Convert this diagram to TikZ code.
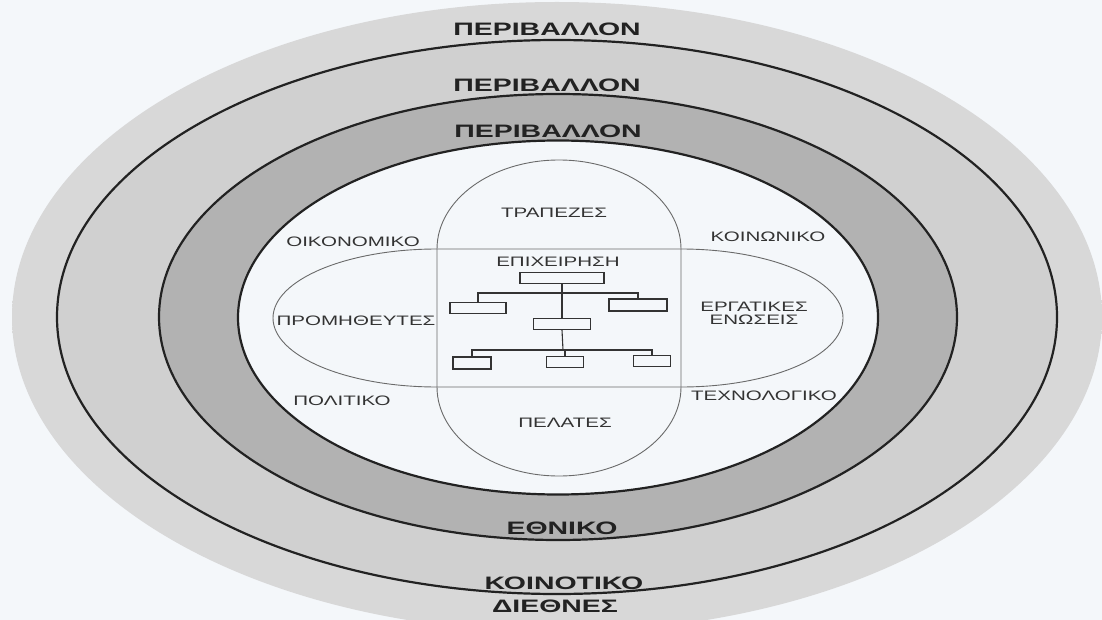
\documentclass[tikz,border=0pt]{standalone}
\usepackage{fontspec}
\setmainfont{Liberation Sans}
\newfontfamily\labfont[FakeStretch=1.5]{Liberation Sans}
\newfontfamily\ringfont[FakeStretch=1.58]{Liberation Sans}
\definecolor{bgcol}{HTML}{F4F7FA}
\definecolor{halocol}{HTML}{D8D8D8}
\definecolor{ringA}{HTML}{D0D0D0}
\definecolor{ringB}{HTML}{B2B2B2}
\definecolor{inkcol}{HTML}{222222}
\definecolor{thincol}{HTML}{6A6A6A}
\pgfdeclareradialshading{haloshade}{\pgfpoint{0bp}{0bp}}{color(0bp)=(halocol); color(44bp)=(halocol); color(50bp)=(bgcol)}
\tikzset{
  ring/.style={draw=inkcol, line width=2.2pt},
  thinline/.style={draw=thincol, line width=0.9pt},
  ringlabel/.style={inner sep=0pt, text=inkcol, font=\fontsize{18}{20}\selectfont\ringfont\bfseries},
  lab/.style={inner sep=0pt, text=black!80, font=\fontsize{13.7}{13}\selectfont\labfont, align=center},
  orgbox/.style={draw=black!80, line width=1.1pt, fill=bgcol, inner sep=0pt, minimum height=11pt},
  orgline/.style={draw=black!80, line width=1.1pt}
}
\begin{document}
\begin{tikzpicture}[x=1pt,y=-1pt]
\useasboundingbox (0,0) rectangle (1102,620);
\fill[bgcol] (0,0) rectangle (1102,620);
% halo and rings
\shade[shading=haloshade] (557,317) ellipse [x radius=545, y radius=315];
\draw[ring, fill=ringA] (557,317) ellipse [x radius=500, y radius=277];
\draw[ring, fill=ringB] (558,317) ellipse [x radius=399, y radius=223];
\draw[ring, fill=bgcol] (558,317.5) ellipse [x radius=320, y radius=177];
% vertical stadium
\draw[thinline] (437,249) -- (437,387)
  arc[start angle=180, end angle=0, x radius=122, y radius=89]
  -- (681,249)
  arc[start angle=0, end angle=-180, x radius=122, y radius=89] -- cycle;
% horizontal stadium
\draw[thinline] (437,249) -- (681,249)
  arc[start angle=-90, end angle=90, x radius=162, y radius=69]
  -- (437,387)
  arc[start angle=90, end angle=270, x radius=164, y radius=69] -- cycle;
% ring labels
\node[ringlabel] (env1) at (547,29) {ΠΕΡΙΒΑΛΛΟΝ};
\node[ringlabel] (env2) at (547,85) {ΠΕΡΙΒΑΛΛΟΝ};
\node[ringlabel] (env3) at (548,131) {ΠΕΡΙΒΑΛΛΟΝ};
\node[ringlabel] (ethn) at (562,528) {ΕΘΝΙΚΟ};
\node[ringlabel] (koin) at (564,583) {ΚΟΙΝΟΤΙΚΟ};
\node[ringlabel] (dieth) at (555,606) {ΔΙΕΘΝΕΣ};
% inner labels
\node[lab] (trap) at (554,213) {ΤΡΑΠΕΖΕΣ};
\node[lab] (oik) at (353,242) {ΟΙΚΟΝΟΜΙΚΟ};
\node[lab] (koinw) at (768,237) {ΚΟΙΝΩΝΙΚΟ};
\node[lab] (epix) at (558,262) {ΕΠΙΧΕΙΡΗΣΗ};
\node[lab] (prom) at (356,321) {ΠΡΟΜΗΘΕΥΤΕΣ};
\node[lab] (erg) at (754,313) {ΕΡΓΑΤΙΚΕΣ\\ΕΝΩΣΕΙΣ};
\node[lab] (pol) at (342,401) {ΠΟΛΙΤΙΚΟ};
\node[lab] (tech) at (764,396) {ΤΕΧΝΟΛΟΓΙΚΟ};
\node[lab] (pel) at (565,423) {ΠΕΛΑΤΕΣ};
% org chart
\node[orgbox, minimum width=84pt] (t) at (562,278) {};
\node[orgbox, minimum width=56pt] (l1) at (478,308) {};
\node[orgbox, minimum width=58pt, minimum height=12pt] (r1) at (638,305) {};
\node[orgbox, minimum width=57pt] (m) at (562,324) {};
\node[orgbox, minimum width=38pt, minimum height=12pt] (b1) at (472,363) {};
\node[orgbox, minimum width=37pt] (b2) at (565,362) {};
\node[orgbox, minimum width=37pt] (b3) at (652,361) {};
\coordinate (j1) at (562,293);
\coordinate (j2) at (563,350);
\draw[orgline] (t.south) -- (m.north);
\draw[orgline] (l1.north) |- (j1) -| (r1.north);
\draw[orgline] (m.south) -- (j2);
\draw[orgline] (b1.north) |- (j2) -| (b3.north);
\draw[orgline] (j2) -| (b2.north);
\end{tikzpicture}
\end{document}
